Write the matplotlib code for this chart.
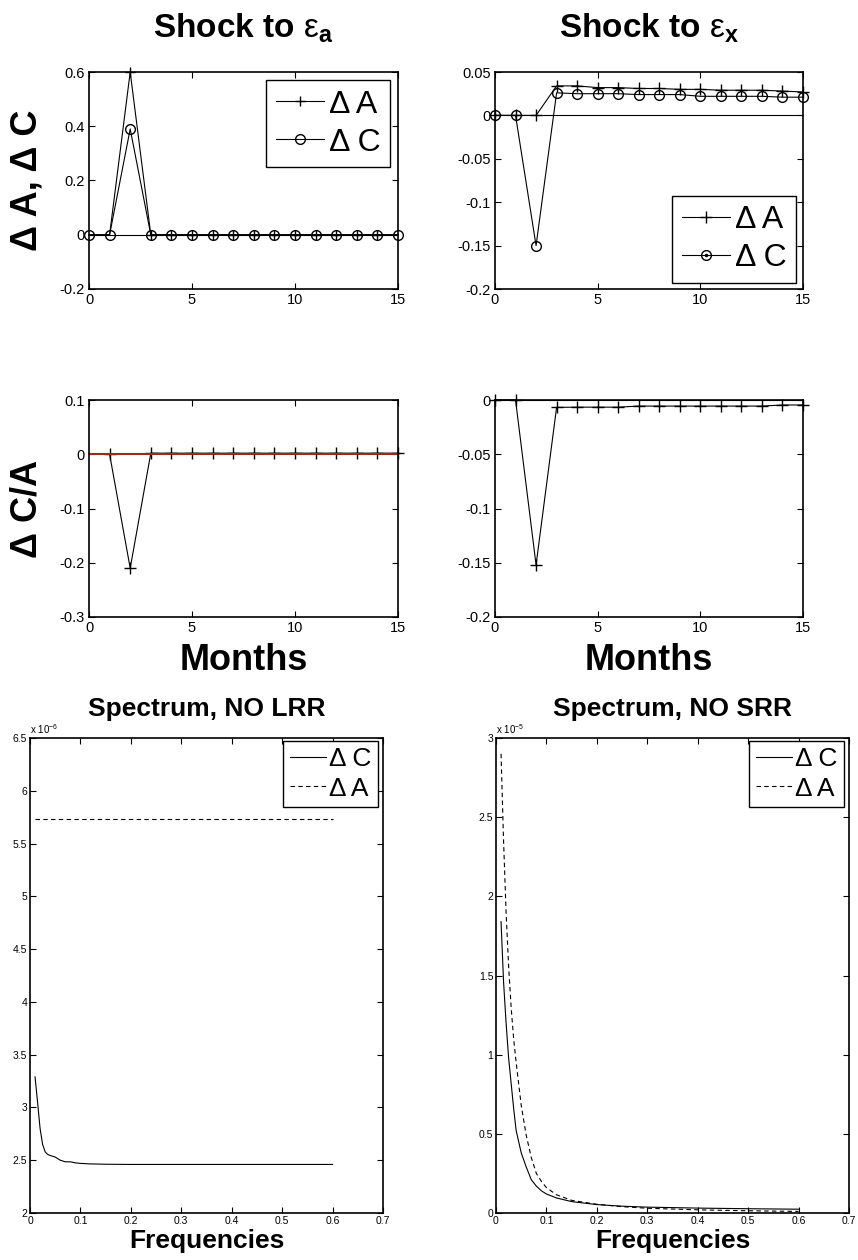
import numpy as np
import matplotlib
matplotlib.use("Agg")
import matplotlib.pyplot as plt
from matplotlib.ticker import FuncFormatter, MultipleLocator

plt.rcParams['font.family'] = ['Liberation Sans', 'DejaVu Sans']
plt.rcParams['mathtext.fontset'] = 'custom'
plt.rcParams['mathtext.rm'] = 'Liberation Sans'
plt.rcParams['mathtext.it'] = 'Liberation Sans:italic'
plt.rcParams['mathtext.bf'] = 'Liberation Sans:bold'

# impulse responses, months 0..15
months = list(range(16))
a_dA = [0, 0, 0.6, 0, 0, 0, 0, 0, 0, 0, 0, 0, 0, 0, 0, 0]
a_dC = [0, 0, 0.39, 0, 0, 0, 0, 0, 0, 0, 0, 0, 0, 0, 0, 0]
a_dCA = [0, 0, -0.21, 0.002, 0.002, 0.002, 0.002, 0.002, 0.002, 0.002,
         0.002, 0.002, 0.002, 0.002, 0.002, 0.002]
x_dA = [0, 0, 0, 0.034, 0.034, 0.032, 0.032, 0.031, 0.031, 0.030, 0.030,
        0.029, 0.029, 0.029, 0.028, 0.027]
x_dC = [0, 0, -0.15, 0.026, 0.025, 0.025, 0.025, 0.024, 0.024, 0.024,
        0.022, 0.022, 0.022, 0.022, 0.021, 0.021]
x_dCA = [0, 0, -0.152, -0.0068, -0.0066, -0.0066, -0.0066, -0.0056, -0.0056,
         -0.0056, -0.0056, -0.0056, -0.0056, -0.0056, -0.0046, -0.0046]

# spectra
freq = [0.01, 0.015, 0.02, 0.025, 0.03, 0.035, 0.04, 0.05, 0.06, 0.07, 0.08,
        0.09, 0.1, 0.12, 0.15, 0.2, 0.25, 0.3, 0.4, 0.5, 0.6]
lrr_dC = [3.29, 3.05, 2.80, 2.65, 2.58, 2.555, 2.545, 2.53, 2.50, 2.485, 2.485,
          2.475, 2.47, 2.465, 2.462, 2.46, 2.46, 2.46, 2.46, 2.46, 2.46]
lrr_dA = [5.73] * len(freq)
srr_dC = [1.84, 1.46, 1.20, 0.98, 0.82, 0.66, 0.52, 0.38, 0.29, 0.21, 0.17,
          0.14, 0.12, 0.095, 0.072, 0.053, 0.043, 0.037, 0.031, 0.027, 0.024]
srr_dA = [2.90, 2.35, 1.90, 1.56, 1.30, 1.10, 0.95, 0.68, 0.49, 0.35, 0.25,
          0.20, 0.16, 0.115, 0.08, 0.055, 0.04, 0.03, 0.02, 0.014, 0.01]
lrr_scale = 1e-6
srr_scale = 1e-5

fig = plt.figure(figsize=(8.58, 12.6), dpi=100)
W, H = 858.0, 1260.0


def box(l, t, r, b):
    return fig.add_axes([l / W, 1 - b / H, (r - l) / W, (b - t) / H])


def style(ax, size):
    ax.tick_params(direction='in', top=True, right=True, length=4,
                   width=0.8, labelsize=size, pad=3)
    for s in ax.spines.values():
        s.set_linewidth(1.2)
    ax.yaxis.set_major_formatter(FuncFormatter(lambda v, p: '%g' % round(v, 6)))
    ax.xaxis.set_major_formatter(FuncFormatter(lambda v, p: '%g' % round(v, 6)))


lw = 0.8
ax1 = box(89, 72, 398, 289)
ax2 = box(495, 72, 803, 289)
ax3 = box(89, 400, 398, 617)
ax4 = box(495, 400, 803, 617)
ax5 = box(30, 738, 383, 1213)
ax6 = box(496, 738, 849, 1213)

# top left
ax1.axhline(0, color='k', lw=lw)
la, = ax1.plot(months, a_dA, 'k-', marker='+', ms=7, lw=lw, clip_on=False,
               markevery=slice(2, 15))
lc, = ax1.plot(months, a_dC, 'k-', marker='o', ms=7, mfc='none', lw=lw,
               clip_on=False)
ax1.set_xlim(0, 15)
ax1.set_ylim(-0.2, 0.6)
ax1.xaxis.set_major_locator(MultipleLocator(5))
ax1.yaxis.set_major_locator(MultipleLocator(0.2))
style(ax1, 10.5)
ax1.set_title(r'Shock to $\mathrm{\varepsilon}_{\mathbf{a}}$', fontsize=24,
              fontweight='bold', y=1.16, pad=0)
ax1.set_ylabel('Δ A, Δ C', fontsize=26, fontweight='bold')
ax1.yaxis.set_label_coords(-0.145, 0.5)
lg = ax1.legend([la, lc], ['Δ A', 'Δ C'], loc='upper right',
                bbox_to_anchor=(0.974, 0.963), borderaxespad=0, fontsize=23,
                handlelength=1.5, handletextpad=0.15, labelspacing=0.25,
                borderpad=0.3, fancybox=False, edgecolor='k', framealpha=1)
lg.get_frame().set_linewidth(1.0)

# top right
ax2.axhline(0, color='k', lw=lw)
lb, = ax2.plot(months, x_dA, 'k-', marker='+', ms=8, lw=lw, clip_on=False)
ld, = ax2.plot(months, x_dC, 'k-', marker='o', ms=7, mfc='none', lw=lw,
               clip_on=False)
dot, = ax2.plot([], [], 'k.', ms=3)
ax2.set_xlim(0, 15)
ax2.set_ylim(-0.2, 0.05)
ax2.xaxis.set_major_locator(MultipleLocator(5))
ax2.yaxis.set_major_locator(MultipleLocator(0.05))
style(ax2, 10.5)
ax2.set_title(r'Shock to $\mathrm{\varepsilon}_{\mathbf{x}}$', fontsize=24,
              fontweight='bold', y=1.16, pad=0)
lg = ax2.legend([lb, (ld, dot)], ['Δ A', 'Δ C'], loc='lower right',
                bbox_to_anchor=(0.977, 0.028), borderaxespad=0, fontsize=23,
                handlelength=1.5, handletextpad=0.15, labelspacing=0.25,
                borderpad=0.3, fancybox=False, edgecolor='k', framealpha=1)
lg.get_frame().set_linewidth(1.0)

# middle left
ax3.plot(months, a_dCA, 'k-', marker='+', ms=8, lw=lw, clip_on=False,
         markevery=slice(1, None))
ax3.axhline(0, color='#9b2a1a', lw=1.5)
ax3.set_xlim(0, 15)
ax3.set_ylim(-0.3, 0.1)
ax3.xaxis.set_major_locator(MultipleLocator(5))
ax3.yaxis.set_major_locator(MultipleLocator(0.1))
style(ax3, 10.5)
ax3.set_ylabel('Δ C/A', fontsize=26, fontweight='bold')
ax3.yaxis.set_label_coords(-0.145, 0.5)
ax3.set_xlabel('Months', fontsize=26, fontweight='bold')
ax3.xaxis.set_label_coords(0.5, -0.12)

# middle right
ax4.axhline(0, color='k', lw=lw)
ax4.plot(months, x_dCA, 'k-', marker='+', ms=8, lw=lw, clip_on=False)
ax4.set_xlim(0, 15)
ax4.set_ylim(-0.2, 0)
ax4.xaxis.set_major_locator(MultipleLocator(5))
ax4.yaxis.set_major_locator(MultipleLocator(0.05))
style(ax4, 10.5)
ax4.set_xlabel('Months', fontsize=26, fontweight='bold')
ax4.xaxis.set_label_coords(0.5, -0.12)

# bottom spectra
specs = [(ax5, lrr_dC, lrr_dA, lrr_scale, 'Spectrum, NO LRR', (2, 6.5), -6),
         (ax6, srr_dC, srr_dA, srr_scale, 'Spectrum, NO SRR', (0, 3), -5)]
for ax, yc, ya, sc, title, ylim, ex in specs:
    ax.plot(freq, np.array(yc) * sc, 'k-', lw=lw, label='Δ C')
    ax.plot(freq, np.array(ya) * sc, 'k--', lw=lw, dashes=(4, 3), label='Δ A')
    ax.set_xlim(0, 0.7)
    ax.set_ylim(ylim[0] * sc, ylim[1] * sc)
    ax.xaxis.set_major_locator(MultipleLocator(0.1))
    ax.yaxis.set_major_locator(MultipleLocator(0.5 * sc))
    ax.tick_params(direction='in', top=True, right=True, length=4,
                   width=0.8, labelsize=7.5, pad=2)
    for s in ax.spines.values():
        s.set_linewidth(1.2)
    ax.xaxis.set_major_formatter(FuncFormatter(lambda v, p: '%g' % round(v, 6)))
    ax.yaxis.set_major_formatter(
        FuncFormatter(lambda v, p, sc=sc: '%g' % round(v / sc, 6)))
    ax.text(0.0, 1.004, 'x 10$^{%d}$' % ex, transform=ax.transAxes,
            fontsize=7, ha='left', va='bottom')
    ax.set_title(title, fontsize=19, fontweight='bold', y=1.046, pad=0)
    ax.set_xlabel('Frequencies', fontsize=19, fontweight='bold')
    ax.xaxis.set_label_coords(0.5, -0.034)
    lg = ax.legend(loc='upper right', bbox_to_anchor=(0.986, 0.994),
                   borderaxespad=0, fontsize=19, handlelength=1.4,
                   handletextpad=0.1, labelspacing=0.2, borderpad=0.25,
                   fancybox=False, edgecolor='k', framealpha=1)
    lg.get_frame().set_linewidth(1.0)

fig.savefig('out.png', dpi=100)
